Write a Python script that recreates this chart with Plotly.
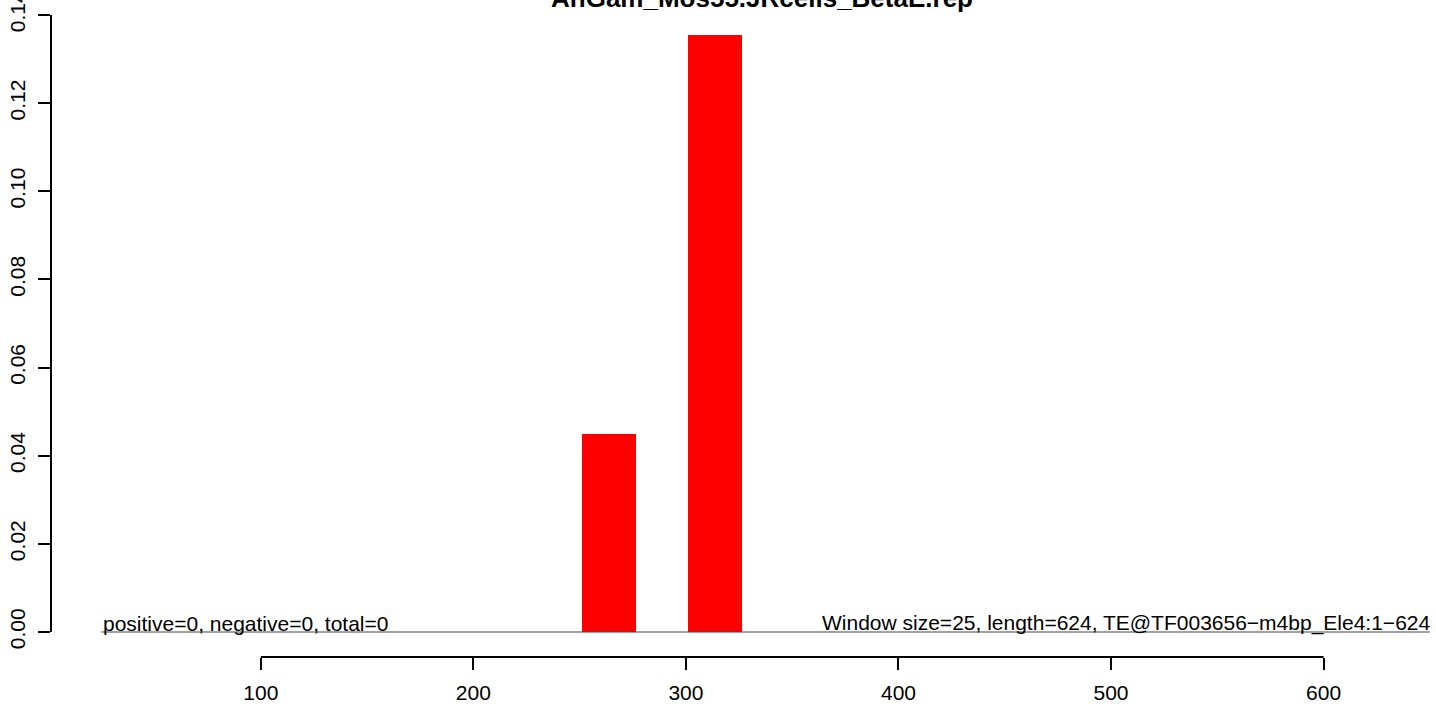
import plotly.graph_objects as go

# ---- data ----
title_text = "AnGam_Mos55.JRcells_BetaE.rep"
bin_start = [251, 301]
bin_width = 25.5
bin_value = [0.045, 0.1355]
x_ticks = [100, 200, 300, 400, 500, 600]
y_ticks = [0.00, 0.02, 0.04, 0.06, 0.08, 0.10, 0.12, 0.14]
y_tick_labels = ["0.00", "0.02", "0.04", "0.06", "0.08", "0.10", "0.12", "0.14"]
left_note = "positive=0, negative=0, total=0"
right_note = "Window size=25, length=624, TE@TF003656\u2212m4bp_Ele4:1\u2212624"
line_start, line_end = 25, 650

W, H = 1436, 704
FONT = "Liberation Sans, Arial, sans-serif"
fs = 21

x_range = [1.3, 651.0]
y_range = [-0.00567, 0.1434]

centers = [s + bin_width / 2 for s in bin_start]

fig = go.Figure()
fig.add_trace(go.Bar(x=centers, y=bin_value, width=[bin_width] * len(centers),
                     marker=dict(color="#FF0000", line=dict(width=0)),
                     hoverinfo="skip", showlegend=False))

fig.update_layout(
    width=W, height=H,
    margin=dict(l=51, r=W - 1432, t=0, b=H - 657, pad=0, autoexpand=False),
    paper_bgcolor="white", plot_bgcolor="white",
    font=dict(family=FONT, size=fs, color="black"),
    bargap=0,
    xaxis=dict(range=x_range, showgrid=False, zeroline=False, showline=False, automargin=False,
               tickmode="array", tickvals=x_ticks, ticktext=[str(v) for v in x_ticks],
               ticks="outside", ticklen=12, tickwidth=2, tickcolor="black",
               ticklabelstandoff=5, ticklabeloverflow="allow",
               tickfont=dict(size=fs, family=FONT)),
    yaxis=dict(range=y_range, showgrid=False, zeroline=False, showline=False, automargin=False,
               tickmode="array", tickvals=y_ticks, ticktext=y_tick_labels,
               ticks="outside", ticklen=12, tickwidth=2, tickcolor="black",
               ticklabelstandoff=5, ticklabeloverflow="allow",
               tickangle=-90, tickfont=dict(size=fs, family=FONT)),
)

# axis lines spanning first to last tick (R style)
fig.add_shape(type="line", xref="x", yref="paper", x0=x_ticks[0], x1=x_ticks[-1], y0=0, y1=0,
              line=dict(color="black", width=2))
fig.add_shape(type="line", xref="paper", yref="y", x0=0, x1=0, y0=y_ticks[0], y1=y_ticks[-1],
              line=dict(color="black", width=2))
# baseline
fig.add_shape(type="line", xref="x", yref="y", x0=line_start, x1=line_end, y0=0, y1=0,
              line=dict(color="#444444", width=1))

fig.add_annotation(x=line_start, y=0, xref="x", yref="y", text=left_note, showarrow=False,
                   xanchor="left", yanchor="bottom", yshift=-5,
                   font=dict(size=fs, family=FONT, color="black"))
fig.add_annotation(x=line_end, y=0, xref="x", yref="y", text=right_note, showarrow=False,
                   xanchor="right", yanchor="bottom", yshift=-5, xshift=2,
                   font=dict(size=fs, family=FONT, color="black"))
fig.add_annotation(x=(762 - 51) / (1432 - 51), y=1, xref="paper", yref="paper",
                   text="<b>" + title_text + "</b>", showarrow=False,
                   xanchor="center", yanchor="middle", yshift=2,
                   font=dict(size=26, family=FONT, color="black"))

fig.write_html("out.html", config={"displayModeBar": False},
               post_script="document.body.style.margin='0';")
